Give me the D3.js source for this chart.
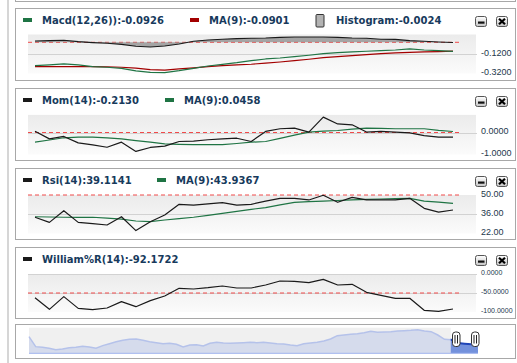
<!DOCTYPE html>
<html><head><meta charset="utf-8">
<script src="https://cdn.jsdelivr.net/npm/d3@7"></script>
<style>html,body{margin:0;padding:0;background:#fff;}svg{display:block;}</style>
</head><body>
<svg id="c" width="517" height="363"></svg>
<script>
// ---- data ----
const macd   = [-0.239,-0.232,-0.222,-0.232,-0.250,-0.256,-0.267,-0.294,-0.308,-0.311,-0.291,-0.267,-0.243,-0.226,-0.209,-0.188,-0.171,-0.161,-0.147,-0.133,-0.116,-0.106,-0.099,-0.092,-0.085,-0.079,-0.068,-0.079,-0.085,-0.0926];
const macdMA = [-0.250,-0.250,-0.250,-0.250,-0.250,-0.252,-0.256,-0.265,-0.280,-0.285,-0.273,-0.262,-0.250,-0.240,-0.232,-0.225,-0.213,-0.202,-0.188,-0.174,-0.157,-0.147,-0.137,-0.126,-0.116,-0.109,-0.103,-0.099,-0.096,-0.0901];
const macdHist = [0.014,0.017,0.021,0.007,-0.003,-0.010,-0.021,-0.041,-0.048,-0.038,-0.017,0.010,0.024,0.031,0.038,0.041,0.044,0.051,0.055,0.055,0.055,0.051,0.044,0.041,0.031,0.030,0.017,0.010,0.003,-0.0024];
const mom   = [0.06,-0.29,-0.18,-0.47,-0.56,-0.67,-0.44,-0.86,-0.68,-0.62,-0.41,-0.39,-0.33,-0.29,-0.26,-0.41,0.05,0.17,0.20,0.02,0.70,0.39,0.35,0.02,0.05,0.02,-0.02,-0.14,-0.21,-0.213];
const momMA = [-0.44,-0.34,-0.24,-0.21,-0.21,-0.24,-0.29,-0.37,-0.44,-0.52,-0.54,-0.55,-0.55,-0.55,-0.50,-0.44,-0.41,-0.27,-0.12,0.02,0.06,0.09,0.15,0.20,0.19,0.17,0.17,0.17,0.10,0.0458];
const rsi   = [33.8,30.1,38.6,30.1,29.2,28.2,34.2,24.1,30.6,35.5,43.2,42.7,43.5,44.4,42.7,43.2,45.6,47.6,47.6,46.4,49.8,44.7,48.3,46.4,46.4,46.4,47.6,40.3,37.6,39.11];
const rsiMA = [34.2,34.0,33.8,33.8,33.8,33.2,32.5,31.1,30.6,31.8,32.8,33.8,35.2,36.7,38.1,39.6,40.8,42.8,44.7,45.2,45.6,46.0,46.4,46.8,47.1,47.4,47.6,45.6,44.8,43.94];
const willR = [-62.3,-93.0,-59.6,-90.4,-93.9,-89.5,-72.8,-86.0,-70.2,-57.9,-37.7,-39.5,-36.0,-31.6,-36.8,-36.8,-29.0,-18.4,-19.3,-22.8,-14.0,-29.0,-27.2,-48.2,-56.1,-64.0,-64.0,-95.6,-98.2,-92.17];
const navValues = [5.0,2.0,1.8,1.5,1.1,1.3,1.7,1.8,2.1,1.9,1.5,2.3,2.9,3.5,3.9,4.2,4.3,3.9,3.5,3.2,2.9,3.0,2.7,1.9,2.5,2.6,2.2,3.0,3.3,3.1,3.0,3.1,3.2,3.3,3.2,3.3,3.1,2.9,2.8,2.5,2.3,2.9,3.1,3.3,3.7,4.3,5.3,5.5,5.7,5.9,6.2,6.6,6.3,6.4,6.5,6.7,6.8,6.9,7.1,6.7,6.5,5.5,4.2,4.1,3.1,2.9,2.7,3.1];

const tickLabels1 = ["-0.1200","-0.3200"]; const ticks1 = [-0.12,-0.32];
const tickLabels2 = ["0.0000","-1.0000"];  const ticks2 = [0,-1];
const tickLabels3 = ["50.00","36.00","22.00"]; const ticks3 = [50,36,22];
const tickLabels4 = ["0.0000","-50.0000","-100.0000"]; const ticks4 = [0,-50,-100];

const legend1 = ["Macd(12,26)):-0.0926","MA(9):-0.0901","Histogram:-0.0024"];
const legend2 = ["Mom(14):-0.2130","MA(9):0.0458"];
const legend3 = ["Rsi(14):39.1141","MA(9):43.9367"];
const legend4 = ["William%R(14):-92.1722"];

// ---- drawing ----
const svg = d3.select("#c");
const defs = svg.append("defs");
const g1 = defs.append("linearGradient").attr("id","plotbg").attr("x1",0).attr("y1",0).attr("x2",0).attr("y2",1);
g1.append("stop").attr("offset","0%").attr("stop-color","#ebebeb");
g1.append("stop").attr("offset","100%").attr("stop-color","#fbfbfb");
const g2 = defs.append("linearGradient").attr("id","btnbg").attr("x1",0).attr("y1",0).attr("x2",0).attr("y2",1);
g2.append("stop").attr("offset","0%").attr("stop-color","#ffffff");
g2.append("stop").attr("offset","100%").attr("stop-color","#c4c4c4");

// page frame bits
svg.append("line").attr("x1",8).attr("x2",8).attr("y1",0).attr("y2",363).attr("stroke","#c9c9c9").attr("stroke-width",1.5);
svg.append("rect").attr("x",15.5).attr("y",-10).attr("width",500).attr("height",11.5).attr("fill","#fff").attr("stroke","#a8a8a8");

const X0 = 35, X1 = 453;
const x = d3.scaleLinear().domain([0, 29]).range([X0, X1]);
const TXT = "#173a5c";
const GREEN = "#1f7444", RED = "#a30000", BLACK = "#1a1a1a";

function panel(top, h, yScale, ticks, labels, gridVals, dashVal, legends, legendColors, legendX, textX, axisFont) {
  svg.append("rect").attr("x",15.5).attr("y",top+0.5).attr("width",500).attr("height",h).attr("fill","#fff").attr("stroke","#a8a8a8");
  const [yb, yt] = yScale.range();
  svg.append("rect").attr("x",28).attr("y",yt).attr("width",448).attr("height",yb-yt).attr("fill","url(#plotbg)");
  gridVals.forEach(v => {
    svg.append("line").attr("x1",28).attr("x2",477).attr("y1",Math.round(yScale(v))+0.5).attr("y2",Math.round(yScale(v))+0.5)
      .attr("stroke","#d2d2d2").attr("stroke-width",1);
  });
  svg.append("line").attr("x1",28).attr("x2",459).attr("y1",yScale(dashVal)).attr("y2",yScale(dashVal))
    .attr("stroke","#f04a4a").attr("stroke-width",1).attr("stroke-dasharray","4,3");
  ticks.forEach((t,i) => {
    svg.append("text").attr("x",481).attr("y",yScale(t)-1.5).attr("dominant-baseline","central")
      .attr("font-family","'Liberation Sans', Arial, sans-serif").attr("font-size",axisFont).attr("fill","#24384c").text(labels[i]);
  });
  // legend
  legends.forEach((s,i) => {
    const c = legendColors[i];
    if (c === "hist") {
      svg.append("rect").attr("x",legendX[i]+0.5).attr("y",top+6.5).attr("width",8).attr("height",12.5).attr("rx",1)
        .attr("fill","#b3b3b3").attr("stroke","#333").attr("stroke-width",1);
    } else {
      svg.append("rect").attr("x",legendX[i]).attr("y",top+10).attr("width",9).attr("height",4).attr("fill",c);
    }
    svg.append("text").attr("x",textX[i]).attr("y",top+16).attr("font-family","'DejaVu Sans', Verdana, sans-serif")
      .attr("font-weight","bold").attr("font-size",10).attr("fill",TXT).text(s);
  });
  // buttons
  const by = top + 8.5;
  svg.append("rect").attr("x",475.5).attr("y",by).attr("width",11).attr("height",10).attr("rx",2).attr("fill","url(#btnbg)").attr("stroke","#555");
  svg.append("rect").attr("x",478).attr("y",by+5).attr("width",6.5).attr("height",2.2).attr("fill","#111");
  svg.append("rect").attr("x",496.5).attr("y",by).attr("width",11).attr("height",10).attr("rx",2).attr("fill","url(#btnbg)").attr("stroke","#555");
  svg.append("path").attr("d",`M${499} ${by+2.2}L${505} ${by+7.8}M${505} ${by+2.2}L${499} ${by+7.8}`).attr("stroke","#000").attr("stroke-width",2.2);
}
function drawLine(yScale, vals, color, w) {
  svg.append("path").datum(vals).attr("fill","none").attr("stroke",color).attr("stroke-width",w||1.2)
    .attr("stroke-linejoin","round").attr("d", d3.line().x((d,i)=>x(i)).y(d=>yScale(d)));
}

// Panel 1: MACD
const y1 = d3.scaleLinear().domain([-0.32, 0.08]).range([73.5, 34.5]);
panel(8, 72, y1, ticks1, tickLabels1, [-0.12], 0, legend1, [GREEN, RED, "hist"], [23,190,315.5], [42,209,336], 9);
svg.append("path").datum(macdHist).attr("fill","#8c8c8c").attr("fill-opacity",0.75)
  .attr("d", d3.area().x((d,i)=>x(i)).y0(y1(0)).y1(d=>y1(d)));
drawLine(y1, macdHist, BLACK, 1.1);
drawLine(y1, macdMA, RED);
drawLine(y1, macd, GREEN);

// Panel 2: Momentum
const y2 = d3.scaleLinear().domain([-1, 0.8]).range([154.5, 114.9]);
panel(88, 72, y2, ticks2, tickLabels2, [0], 0, legend2, [BLACK, GREEN], [23,165], [42,184], 9);
drawLine(y2, momMA, GREEN);
drawLine(y2, mom, BLACK);

// Panel 3: RSI
const y3 = d3.scaleLinear().domain([22, 50]).range([233.5, 195]);
panel(168, 71, y3, ticks3, tickLabels3, [36], 50, legend3, [BLACK, GREEN], [23,157], [42,176], 9);
drawLine(y3, rsiMA, GREEN);
drawLine(y3, rsi, BLACK);

// Panel 4: William %R
const y4 = d3.scaleLinear().domain([-100, 0]).range([312, 274]);
panel(247, 71, y4, ticks4, tickLabels4, [0,-50], -50, legend4, [BLACK], [23], [42], 7);
drawLine(y4, willR, BLACK);

// Navigator
svg.append("rect").attr("x",15.5).attr("y",324.5).attr("width",500).attr("height",34).attr("fill","#fff").attr("stroke","#a8a8a8");
const nx = d3.scaleLinear().domain([0, navValues.length-1]).range([29, 478]);
const ny = d3.scaleLinear().domain([0, 7.7]).range([353.3, 327.7]);
const selX = 450.7;
svg.append("rect").attr("x",29).attr("y",327.7).attr("width",selX-29).attr("height",353.3-327.7).attr("fill","#f0f0f0");
defs.append("clipPath").attr("id","leftc").append("rect").attr("x",0).attr("y",300).attr("width",selX).attr("height",63);
defs.append("clipPath").attr("id","rightc").append("rect").attr("x",selX).attr("y",300).attr("width",100).attr("height",63);
const nArea = d3.area().x((d,i)=>nx(i)).y0(353.3).y1(d=>ny(d));
const nLine = d3.line().x((d,i)=>nx(i)).y(d=>ny(d));
svg.append("path").datum(navValues).attr("clip-path","url(#leftc)").attr("fill","#d5dbec").attr("d",nArea);
svg.append("path").datum(navValues).attr("clip-path","url(#leftc)").attr("fill","none").attr("stroke","#b5c2ea").attr("stroke-width",1.5).attr("d",nLine);
svg.append("path").datum(navValues).attr("clip-path","url(#rightc)").attr("fill","#7391dc").attr("d",nArea);
svg.append("path").datum(navValues).attr("clip-path","url(#rightc)").attr("fill","none").attr("stroke","#1f45b8").attr("stroke-width",2).attr("d",nLine);
svg.append("line").attr("x1",29).attr("x2",478).attr("y1",353.3).attr("y2",353.3).attr("stroke","#9fb3ee").attr("stroke-width",1);
[456, 475].forEach(hx => {
  svg.append("rect").attr("x",hx-3.5).attr("y",332).attr("width",7.5).attr("height",14.5).attr("rx",3).attr("fill","#fff").attr("stroke","#333");
  svg.append("line").attr("x1",hx-1).attr("x2",hx-1).attr("y1",335).attr("y2",343.5).attr("stroke","#222");
  svg.append("line").attr("x1",hx+1.5).attr("x2",hx+1.5).attr("y1",335).attr("y2",343.5).attr("stroke","#222");
});
</script>
</body></html>
